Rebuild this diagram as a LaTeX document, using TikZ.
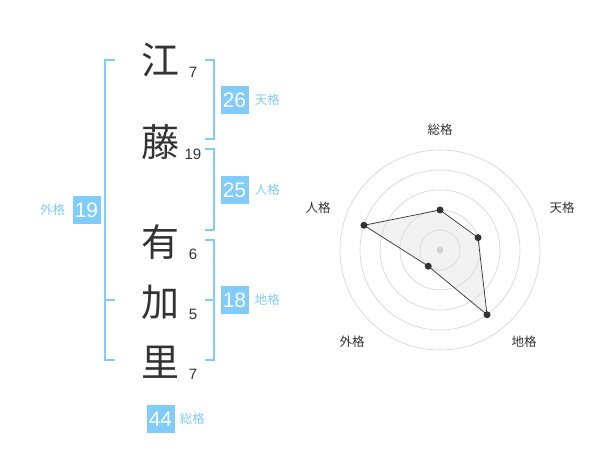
\documentclass[tikz,border=0pt]{standalone}
\usepackage{fontspec}
\setmainfont{Noto Sans CJK JP}
\newfontfamily\digitfont{Liberation Sans}
\usetikzlibrary{positioning}
\definecolor{kakublue}{RGB}{128,204,250}
\definecolor{kakugray}{RGB}{51,51,51}
\definecolor{ringgray}{RGB}{210,210,210}

\begin{document}
\begin{tikzpicture}[x=1pt,y=-1pt,
  kanji/.style={font=\fontsize{38}{38}\selectfont, text=kakugray, inner sep=0pt},
  strokes/.style={font=\digitfont\fontsize{15}{15}\selectfont, text=kakugray, inner sep=0pt},
  kakubox/.style={fill=kakublue, text=white, minimum size=28pt, inner sep=0pt,
    font=\digitfont\fontsize{21}{21}\selectfont},
  kakulabel/.style={text=kakublue, inner sep=0pt, font=\fontsize{12.5}{12.5}\selectfont},
  bracket/.style={draw=kakublue, line width=1.5pt},
  radarlabel/.style={text=kakugray, font=\fontsize{12.5}{12.5}\selectfont},
  dot/.style={circle, fill=kakugray, inner sep=0pt, minimum size=7pt}]
  \useasboundingbox (0,0) rectangle (600,470);
  % name, one character per row, with its stroke count
  \foreach [count=\i] \ch/\y/\n in {江/60/7, 藤/142/19, 有/242/6, 加/302/5, 里/362/7} {
    \node[kanji] (ch\i) at (160,\y) {\ch};
    \node[strokes] (n\i) at (193,\y+12) {\n};
  }
  % brackets
  \draw[bracket] (115,60) -- (105,60) -- (105,360) -- (115,360);
  \draw[bracket] (105,300) -- (115,300);
  \draw[bracket] (205,60) -- (214,60) -- (214,139) -- (205,139);
  \draw[bracket] (205,149) -- (214,149) -- (214,230) -- (205,230);
  \draw[bracket] (205,240) -- (214,240) -- (214,360) -- (205,360);
  \draw[bracket] (205,300) -- (214,300);
  % totals
  \node[kakubox] (ten) at (234.5,100) {26};
  \node[kakulabel, right=6pt of ten] (tenl) {天格};
  \node[kakubox] (jin) at (234.5,190) {25};
  \node[kakulabel, right=6pt of jin] (jinl) {人格};
  \node[kakubox] (chi) at (234.5,300) {18};
  \node[kakulabel, right=6pt of chi] (chil) {地格};
  \node[kakubox] (gai) at (86.5,210) {19};
  \node[kakulabel, left=7pt of gai] (gail) {外格};
  \node[kakubox] (sou) at (160.5,419) {44};
  \node[kakulabel, right=5pt of sou] (soul) {総格};

  % radar chart
  \coordinate (c) at (440,250);
  \foreach \r in {20,40,...,100}
    \draw[ringgray, line width=0.6pt] (c) circle[radius=\r pt];
  \foreach [count=\i] \lab/\a/\v/\lx/\ly in {総格/90/2/440/130, 天格/18/2/562/208,
      地格/-54/4/524/342, 外格/-126/1/352/342, 人格/162/4/318/208} {
    \coordinate (p\i) at ([shift={(-\a:{20*\v})}]c);
    \node[radarlabel] (l\i) at (\lx,\ly) {\lab};
  }
  \draw[kakugray, line width=0.7pt, fill=gray!25, fill opacity=0.4]
    (p1) -- (p2) -- (p3) -- (p4) -- (p5) -- cycle;
  \node[circle, fill=ringgray, inner sep=0pt, minimum size=7pt] (c0) at (c) {};
  \foreach \i in {1,...,5}
    \node[dot] (d\i) at (p\i) {};
\end{tikzpicture}
\end{document}
